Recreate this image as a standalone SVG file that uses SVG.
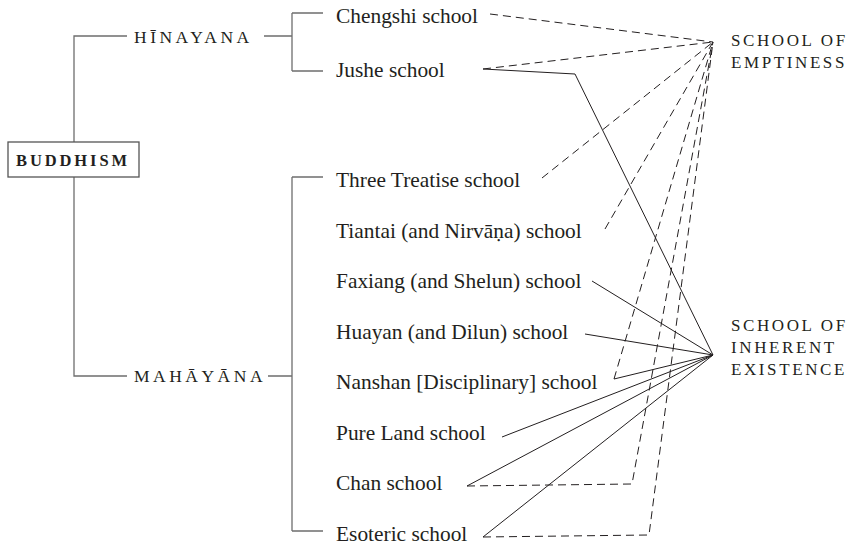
<svg xmlns="http://www.w3.org/2000/svg" width="847" height="546" viewBox="0 0 847 546">
<style>
  .bg{fill:#ffffff}
  .tree{fill:none;stroke:#6e6e6e;stroke-width:1.3}
  .solid{fill:none;stroke:#231f20;stroke-width:1}
  .dash{fill:none;stroke:#231f20;stroke-width:1;stroke-dasharray:8 5}
  .school{font-family:"Liberation Serif","DejaVu Serif",serif;font-size:21.4px;fill:#231f20}
  .sc{font-family:"Liberation Serif","DejaVu Serif",serif;font-size:17.5px;letter-spacing:3.5px;fill:#231f20}
  .lab{font-family:"Liberation Serif","DejaVu Serif",serif;font-size:17px;letter-spacing:2.6px;fill:#231f20}
  .root{font-family:"Liberation Serif","DejaVu Serif",serif;font-size:16.5px;font-weight:bold;letter-spacing:2.9px;fill:#231f20}
  .box{fill:#ffffff;stroke:#555555;stroke-width:1.3}
</style>
<rect class="bg" x="0" y="0" width="847" height="546"/>
<g id="connectors">
  <path class="tree" d="M74 142 V36 H127 M264 36 H292 M292 13 V71 M292 13 H323 M292 71 H323"/>
  <path class="tree" d="M74 177 V376 H127 M268 376 H292 M292 177 V531 M292 177 H323 M292 531 H323"/>
  <line class="dash" x1="490" y1="14" x2="713" y2="42"/>
  <line class="dash" x1="483" y1="69" x2="713" y2="42"/>
  <line class="dash" x1="542" y1="178" x2="713" y2="42"/>
  <line class="dash" x1="605" y1="229" x2="713" y2="42"/>
  <line class="dash" x1="614" y1="379" x2="713" y2="42"/>
  <polyline class="dash" points="467,486 632,484 713,42"/>
  <polyline class="dash" points="483,537 649,535 713,42"/>
  <polyline class="solid" points="483,69 575,74 713,355"/>
  <line class="solid" x1="592" y1="281" x2="713" y2="355"/>
  <line class="solid" x1="585" y1="334" x2="713" y2="355"/>
  <line class="solid" x1="614" y1="379" x2="713" y2="355"/>
  <line class="solid" x1="502" y1="437" x2="713" y2="355"/>
  <line class="solid" x1="467" y1="486" x2="713" y2="355"/>
  <line class="solid" x1="483" y1="537" x2="713" y2="355"/>
</g>
<g id="buddhism">
  <rect class="box" x="8" y="142" width="131" height="35"/>
  <text class="root" x="16" y="166">BUDDHISM</text>
</g>
<g id="hinayana"><text class="sc" x="134" y="43">HĪNAYANA</text></g>
<g id="mahayana"><text class="sc" x="134" y="382">MAHĀYĀNA</text></g>
<g id="chengshi"><text class="school" x="336" y="23">Chengshi school</text></g>
<g id="jushe"><text class="school" x="336" y="77">Jushe school</text></g>
<g id="three-treatise"><text class="school" x="336" y="187">Three Treatise school</text></g>
<g id="tiantai"><text class="school" x="336" y="238">Tiantai (and Nirvāṇa) school</text></g>
<g id="faxiang"><text class="school" x="336" y="288">Faxiang (and Shelun) school</text></g>
<g id="huayan"><text class="school" x="336" y="339">Huayan (and Dilun) school</text></g>
<g id="nanshan"><text class="school" x="336" y="389">Nanshan [Disciplinary] school</text></g>
<g id="pure-land"><text class="school" x="336" y="440">Pure Land school</text></g>
<g id="chan"><text class="school" x="336" y="490">Chan school</text></g>
<g id="esoteric"><text class="school" x="336" y="541">Esoteric school</text></g>
<g id="emptiness">
  <text class="lab" x="731" y="46">SCHOOL OF</text>
  <text class="lab" x="731" y="68">EMPTINESS</text>
</g>
<g id="inherent">
  <text class="lab" x="731" y="331">SCHOOL OF</text>
  <text class="lab" x="731" y="353">INHERENT</text>
  <text class="lab" x="731" y="375">EXISTENCE</text>
</g>
</svg>
